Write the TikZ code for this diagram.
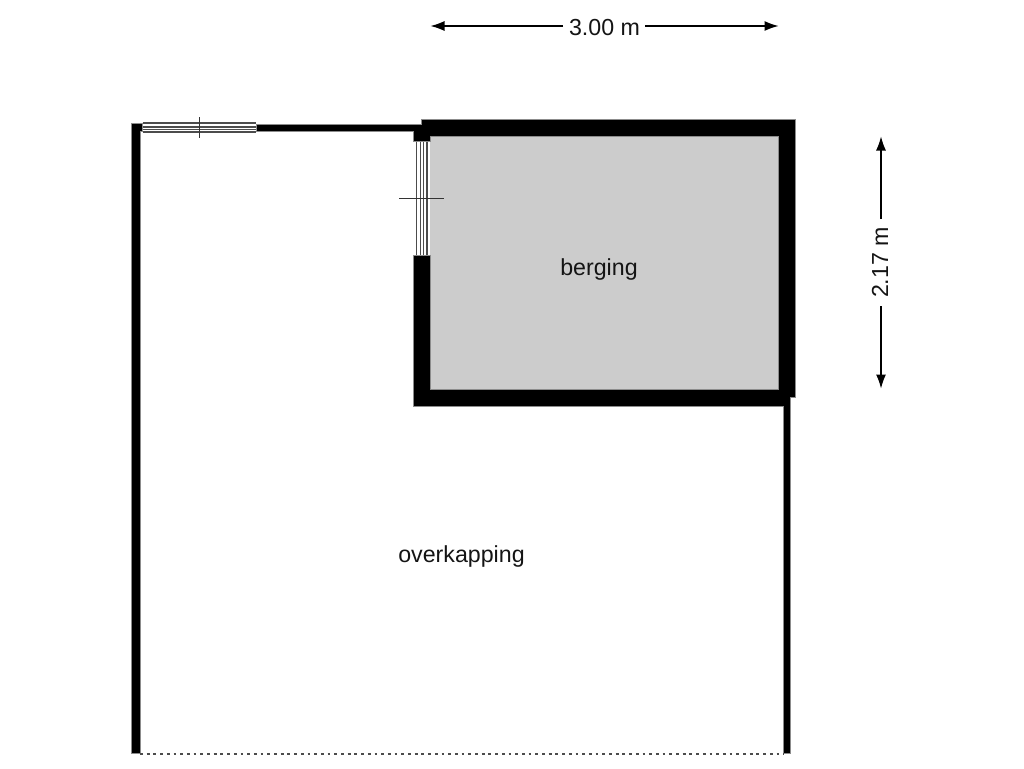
\documentclass[tikz,border=0pt]{standalone}
\usepackage{fontspec}
\setmainfont{Liberation Sans}
\usetikzlibrary{arrows.meta}
\definecolor{roomgray}{HTML}{CCCCCC}
\definecolor{edgegray}{HTML}{8C8C8C}
\tikzset{
  x=1pt,y=-1pt,
  wall/.style={fill=black,draw=edgegray,line width=0.6pt},
  winline/.style={draw=black!70,line width=1.3pt},
  tick/.style={draw=black!80,line width=1pt},
  label/.style={font=\fontsize{23.2}{27}\selectfont,text=black!92,inner sep=0pt},
  dim/.style={draw=black,line width=1.2pt,-{Latex[length=14pt,width=10pt]}},
}
\begin{document}
\begin{tikzpicture}
\useasboundingbox (0,0) rectangle (1024,768);
% room floor
\fill[roomgray] (430,136) rectangle (779,390);
% walls
\draw[wall] (131.7,123.7) -- (142.5,123.7) -- (142.5,131.7) -- (140,131.7) -- (140,753.5) -- (131.7,753.5) -- cycle;
\draw[wall] (256,124) -- (421.7,124) -- (421.7,119) -- (795,119) -- (795,397.5) -- (790.7,397.5) -- (790.7,753.5) -- (783.3,753.5) -- (783.3,406) -- (413,406) -- (413,255) -- (430,255) -- (430,389.5) -- (778.5,389.5) -- (778.5,136) -- (430,136) -- (430,141.7) -- (413,141.7) -- (413,131.7) -- (256,131.7) -- cycle;
% top window
\foreach \yy in {123,127,129.3,132} \draw[winline] (142.5,\yy) -- (256,\yy);
\draw[tick] (199.3,117) -- (199.3,138);
% side window
\foreach \xx in {416.7,420.6,423.6,427} \draw[winline] (\xx,141.7) -- (\xx,255);
\draw[tick] (399,198.5) -- (444,198.5);
% open side
\draw[draw=black!70,line width=1.4pt,dash pattern=on 2.8pt off 3.9pt] (140,753.8) -- (783.3,753.8);
% room labels
\node[label] (berging) at (599,269) {berging};
\node[label] (overkapping) at (461.5,556) {overkapping};
% dimensions
\node[label] (dimw) at (604.5,27.5) {3.00 m};
\coordinate (wl) at (430.5,26);
\coordinate (wr) at (778.5,26);
\coordinate (wla) at (563,26);
\coordinate (wra) at (645,26);
\draw[dim] (wla) -- (wl);
\draw[dim] (wra) -- (wr);
\node[label,rotate=90] (dimh) at (880,262.5) {2.17 m};
\coordinate (ht) at (881,136.5);
\coordinate (hb) at (881,388.5);
\coordinate (hta) at (881,219);
\coordinate (hba) at (881,306);
\draw[dim] (hta) -- (ht);
\draw[dim] (hba) -- (hb);
\end{tikzpicture}
\end{document}
